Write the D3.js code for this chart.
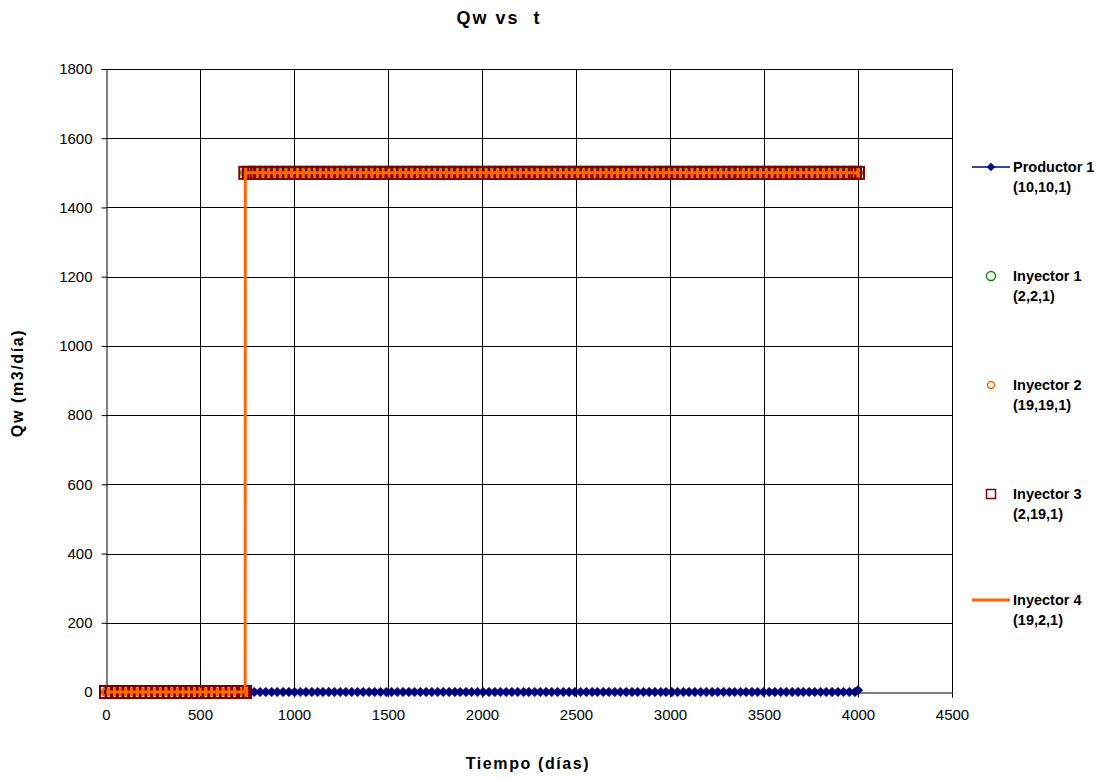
<!DOCTYPE html>
<html>
<head>
<meta charset="utf-8">
<script src="https://cdn.jsdelivr.net/npm/d3@7"></script>
<style>
  body { margin: 0; background: #fff; }
  svg { display: block; font-family: "Liberation Sans", Arial, sans-serif; }
</style>
</head>
<body>
<svg id="chart" width="1115" height="779"></svg>
<script>
// ---------- DATA ----------
const chartTitle = "Qw vs  t";
const xAxisTitle = "Tiempo (días)";
const yAxisTitle = "Qw (m3/día)";
const xTicks = [0, 500, 1000, 1500, 2000, 2500, 3000, 3500, 4000, 4500];
const yTicks = [0, 200, 400, 600, 800, 1000, 1200, 1400, 1600, 1800];

const days = [
  0, 31, 59, 90, 120, 151, 181, 212, 243, 273, 304, 334, 365,
  396, 424, 455, 485, 516, 546, 577, 608, 638, 669, 699, 730, 740,
  741, 761, 789, 820, 850, 881, 911, 942, 973, 1003, 1034, 1064, 1095,
  1126, 1154, 1185, 1215, 1246, 1276, 1307, 1338, 1368, 1399, 1429, 1460,
  1491, 1519, 1550, 1580, 1611, 1641, 1672, 1703, 1733, 1764, 1794, 1825,
  1856, 1884, 1915, 1945, 1976, 2006, 2037, 2068, 2098, 2129, 2159, 2190,
  2221, 2249, 2280, 2310, 2341, 2371, 2402, 2433, 2463, 2494, 2524, 2555,
  2586, 2614, 2645, 2675, 2706, 2736, 2767, 2798, 2828, 2859, 2889, 2920,
  2951, 2979, 3010, 3040, 3071, 3101, 3132, 3163, 3193, 3224, 3254, 3285,
  3316, 3344, 3375, 3405, 3436, 3466, 3497, 3528, 3558, 3589, 3619, 3650,
  3681, 3709, 3740, 3770, 3801, 3831, 3862, 3893, 3923, 3954, 3984, 4000
];

const productor1 = [
  0,0,0,0,0,0,0,0,0,0,0,0,0,
  0,0,0,0,0,0,0,0,0,0,0,0,0,
  0,0,0,0,0,0,0,0,0,0,0,0,0,
  0,0,0,0,0,0,0,0,0,0,0,0,
  0,0,0,0,0,0,0,0,0,0,0,0,
  0,0,0,0,0,0,0,0,0,0,0,0,
  0,0,0,0,0,0,0,0,0,0,0,0,
  0,0,0,0,0,0,0,0,0,0,0,0,
  0,0,0,0,0,0,0,0,0,0,0,0,
  0,0,0,0,0,0,0,0,0,0,0,0,
  0,0,0,0,0,0,0,0,0,0,0,5
];

const inyectorQw = [
  0,0,0,0,0,0,0,0,0,0,0,0,0,
  0,0,0,0,0,0,0,0,0,0,0,0,0,
  1500,1500,1500,1500,1500,1500,1500,1500,1500,1500,1500,1500,1500,
  1500,1500,1500,1500,1500,1500,1500,1500,1500,1500,1500,1500,
  1500,1500,1500,1500,1500,1500,1500,1500,1500,1500,1500,1500,
  1500,1500,1500,1500,1500,1500,1500,1500,1500,1500,1500,1500,
  1500,1500,1500,1500,1500,1500,1500,1500,1500,1500,1500,1500,
  1500,1500,1500,1500,1500,1500,1500,1500,1500,1500,1500,1500,
  1500,1500,1500,1500,1500,1500,1500,1500,1500,1500,1500,1500,
  1500,1500,1500,1500,1500,1500,1500,1500,1500,1500,1500,1500,
  1500,1500,1500,1500,1500,1500,1500,1500,1500,1500,1500,1500
];

const seriesNames = ["Productor 1", "Inyector 1", "Inyector 2", "Inyector 3", "Inyector 4"];
const seriesCoords = ["(10,10,1)", "(2,2,1)", "(19,19,1)", "(2,19,1)", "(19,2,1)"];

// ---------- CHART ----------
const svg = d3.select("#chart");
const m = { left: 106, right: 952, top: 69, bottom: 692 };
const x = d3.scaleLinear().domain([0, 4500]).range([m.left, m.right]);
const y = d3.scaleLinear().domain([0, 1800]).range([m.bottom, m.top]);

const navy = "#000080", green = "#008000", orange = "#FF6600", darkred = "#800000";

// gridlines
const grid = svg.append("g");
grid.selectAll("line.v").data(xTicks.slice(1)).enter().append("line")
  .attr("x1", d => Math.round(x(d)) + 0.5).attr("x2", d => Math.round(x(d)) + 0.5)
  .attr("y1", m.top).attr("y2", m.bottom)
  .attr("stroke", "#000").attr("stroke-width", 1);
grid.selectAll("line.h").data(yTicks.slice(1)).enter().append("line")
  .attr("x1", m.left).attr("x2", m.right)
  .attr("y1", d => Math.round(y(d)) + 0.5).attr("y2", d => Math.round(y(d)) + 0.5)
  .attr("stroke", "#000").attr("stroke-width", 1);

// axes
const xAxis = d3.axisBottom(x).tickValues(xTicks).tickSize(5).tickPadding(10).tickFormat(d3.format("d"));
const yAxis = d3.axisLeft(y).tickValues(yTicks).tickSize(5).tickPadding(9).tickFormat(d3.format("d"));
const gx = svg.append("g").attr("transform", `translate(0,${Math.round(m.bottom) + 0.5})`).call(xAxis);
const gy = svg.append("g").attr("transform", `translate(${m.left + 0.5},0)`).call(yAxis);
[gx, gy].forEach(g => {
  g.select(".domain").attr("stroke", "#000");
  g.selectAll(".tick line").attr("stroke", "#000");
  g.selectAll(".tick text").attr("fill", "#000")
    .style("font-family", "'Liberation Sans', Arial, sans-serif").style("font-size", "15px");
});
gx.selectAll(".tick text").attr("dy", "0.85em");

// data rows
const rows = days.map((d, i) => ({ t: d, p: productor1[i], q: inyectorQw[i] }));

// Productor 1: navy line with diamonds
svg.append("path").datum(rows)
  .attr("fill", "none").attr("stroke", navy).attr("stroke-width", 1.5)
  .attr("d", d3.line().x(d => x(d.t)).y(d => y(d.p)));
const diamond = d3.symbol().type(d3.symbolDiamond2).size(60);
svg.append("g").selectAll("path").data(rows).enter().append("path")
  .attr("d", diamond).attr("transform", d => `translate(${x(d.t)},${y(d.p)})`)
  .attr("fill", navy).attr("stroke", navy).attr("stroke-width", 0.5);

// Inyector 1: green circles
svg.append("g").selectAll("circle").data(rows).enter().append("circle")
  .attr("cx", d => x(d.t)).attr("cy", d => y(d.q)).attr("r", 4.5)
  .attr("fill", "none").attr("stroke", green).attr("stroke-width", 1.2);

// Inyector 2: orange circles
svg.append("g").selectAll("circle").data(rows).enter().append("circle")
  .attr("cx", d => x(d.t)).attr("cy", d => y(d.q)).attr("r", 3.5)
  .attr("fill", "none").attr("stroke", orange).attr("stroke-width", 2.5);

// Inyector 3: dark red squares
svg.append("g").selectAll("rect").data(rows).enter().append("rect")
  .attr("x", d => x(d.t) - 6).attr("y", d => y(d.q) - 6)
  .attr("width", 12).attr("height", 12)
  .attr("fill", "none").attr("stroke", darkred).attr("stroke-width", 2);

// Inyector 4: orange line
svg.append("path").datum(rows)
  .attr("fill", "none").attr("stroke", orange).attr("stroke-width", 3)
  .attr("d", d3.line().x(d => x(d.t)).y(d => y(d.q)));

// titles
svg.append("text").attr("x", 499).attr("y", 24).attr("text-anchor", "middle")
  .style("font-weight", "bold").style("font-size", "18px").style("letter-spacing", "2px")
  .attr("xml:space", "preserve").text(chartTitle);
svg.append("text").attr("x", 528).attr("y", 769).attr("text-anchor", "middle")
  .style("font-weight", "bold").style("font-size", "16px").style("letter-spacing", "1.6px")
  .text(xAxisTitle);
svg.append("text").attr("transform", "translate(23,383) rotate(-90)").attr("text-anchor", "middle")
  .style("font-weight", "bold").style("font-size", "16px").style("letter-spacing", "1.6px")
  .text(yAxisTitle);

// legend
const legendY = [167, 276, 385, 494, 600];
const lg = svg.append("g");
legendY.forEach((ly, i) => {
  const g = lg.append("g").attr("transform", `translate(0,${ly})`);
  const cx = 991;
  if (i === 0) {
    g.append("line").attr("x1", 972).attr("x2", 1010).attr("y1", 0).attr("y2", 0)
      .attr("stroke", navy).attr("stroke-width", 1.5);
    g.append("path").attr("d", d3.symbol().type(d3.symbolDiamond2).size(45)).attr("transform", `translate(${cx},0)`).attr("fill", navy);
  } else if (i === 1) {
    g.append("circle").attr("cx", cx).attr("cy", 0).attr("r", 4.5)
      .attr("fill", "none").attr("stroke", green).attr("stroke-width", 1.3);
  } else if (i === 2) {
    g.append("circle").attr("cx", cx).attr("cy", 0).attr("r", 3.5)
      .attr("fill", "none").attr("stroke", orange).attr("stroke-width", 1.5);
  } else if (i === 3) {
    g.append("rect").attr("x", cx - 4.5).attr("y", -4.5).attr("width", 9).attr("height", 9)
      .attr("fill", "none").attr("stroke", darkred).attr("stroke-width", 1.5);
  } else {
    g.append("line").attr("x1", 972).attr("x2", 1010).attr("y1", 0).attr("y2", 0)
      .attr("stroke", orange).attr("stroke-width", 3);
  }
  g.append("text").attr("x", 1013).attr("y", 5)
    .style("font-weight", "bold").style("font-size", "14.5px").text(seriesNames[i]);
  g.append("text").attr("x", 1013).attr("y", 25)
    .style("font-weight", "bold").style("font-size", "14.5px").text(seriesCoords[i]);
});
</script>
</body>
</html>
